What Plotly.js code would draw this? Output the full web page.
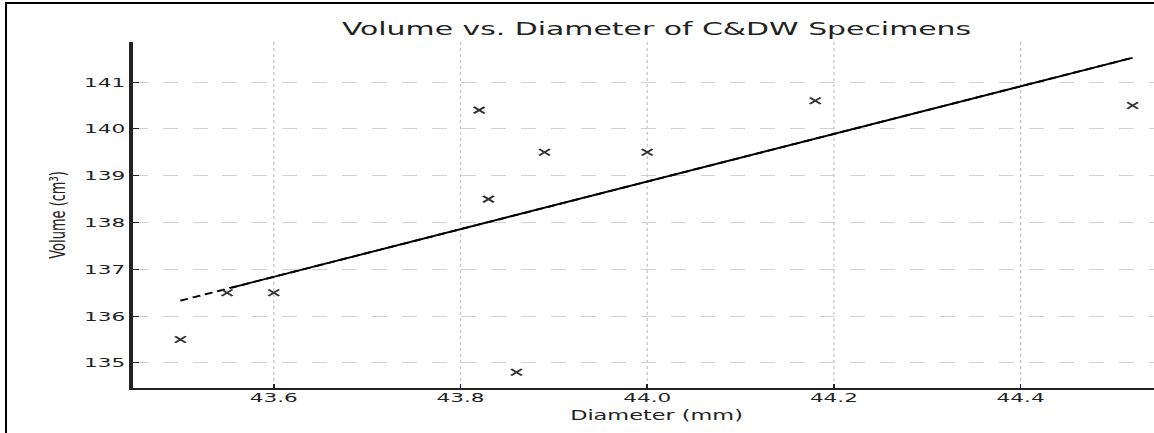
<!DOCTYPE html>
<html>
<head>
<meta charset="utf-8">
<script src="https://cdn.plot.ly/plotly-3.0.1.min.js"></script>
<style>
  html, body { margin: 0; padding: 0; overflow: hidden; background: #fff; width: 1154px; height: 433px; }
  #clip { position: absolute; left: 0; top: 0; width: 1154px; height: 433px; overflow: hidden; }
  #wrap { position: absolute; left: 0; top: 0; width: 711px; height: 433px; transform: scaleX(1.66); transform-origin: 0 0; }
  #frameL { position: absolute; left: 5px; top: 2px; width: 2px; height: 431px; background: #000; }
  #frameT { position: absolute; left: 5px; top: 2px; width: 1149px; height: 2px; background: #000; }
</style>
</head>
<body>
<div id="clip"><div id="wrap"><div id="chart" style="width:711px;height:433px;"></div></div></div>
<div id="frameL"></div>
<div id="frameT"></div>
<script>
// Measured specimens
const diameter = [43.50, 43.55, 43.60, 43.82, 43.83, 43.86, 43.89, 44.00, 44.18, 44.52];
const volume   = [135.5, 136.5, 136.5, 140.4, 138.5, 134.8, 139.5, 139.5, 140.6, 140.5];

// Linear fit line (dashed start + solid overlay)
const fitX = [43.50, 44.52];
const fitY = [136.33, 141.52];
const fitSolidX = [43.555, 44.52];
const fitSolidY = [136.61, 141.52];

const xTicks = [43.6, 43.8, 44.0, 44.2, 44.4];
const xTickText = ['43.6', '43.8', '44.0', '44.2', '44.4'];
const yTicks = [135, 136, 137, 138, 139, 140, 141];
const yTickText = ['135', '136', '137', '138', '139', '140', '141'];

const traces = [
  { x: fitX, y: fitY, mode: 'lines', line: { color: '#000', width: 1.8, dash: '5px,3px' }, hoverinfo: 'skip' },
  { x: fitSolidX, y: fitSolidY, mode: 'lines', line: { color: '#000', width: 1.8 }, hoverinfo: 'skip' },
  { x: diameter, y: volume, mode: 'markers',
    marker: { symbol: 'x-thin', size: 6.5, color: '#333', line: { color: '#333', width: 1.6 } } }
];

const font = 'DejaVu Sans, sans-serif';
const layout = {
  width: 711, height: 433,
  margin: { l: 80, r: 0, t: 42, b: 45 },
  paper_bgcolor: '#fff', plot_bgcolor: '#fff',
  showlegend: false,
  title: { text: 'Volume vs. Diameter of C&amp;DW Specimens', font: { family: font, size: 18, color: '#222' },
           xref: 'container', x: 395.5 / 711, xanchor: 'center', yref: 'container', y: 1 - 28.5 / 433, yanchor: 'middle' },
  xaxis: {
    range: [43.449, 44.571], tickmode: 'array', tickvals: xTicks, ticktext: xTickText,
    ticks: 'inside', ticklen: 4, tickwidth: 1, tickcolor: '#222', ticklabelstandoff: -3,
    showline: true, linecolor: '#222', linewidth: 1.6, mirror: false,
    showgrid: true, gridcolor: '#c8c8c8', gridwidth: 0.8, griddash: 'dot',
    zeroline: false, tickfont: { family: font, size: 13, color: '#222' },
    title: { text: 'Diameter (mm)', font: { family: font, size: 13.5, color: '#222' }, standoff: 6 }
  },
  yaxis: {
    range: [134.464, 141.856], tickmode: 'array', tickvals: yTicks, ticktext: yTickText,
    ticks: 'inside', ticklen: 4, tickwidth: 1, tickcolor: '#222',
    showline: true, linecolor: '#222', linewidth: 2, mirror: false,
    showgrid: true, gridcolor: '#d0d0d0', gridwidth: 1, griddash: 'dash',
    zeroline: false, tickfont: { family: font, size: 13, color: '#222' },
    title: { text: 'Volume (cm³)', font: { family: font, size: 13, color: '#222' }, standoff: 8 }
  }
};

Plotly.newPlot('chart', traces, layout, { displayModeBar: false, staticPlot: true });
</script>
</body>
</html>
